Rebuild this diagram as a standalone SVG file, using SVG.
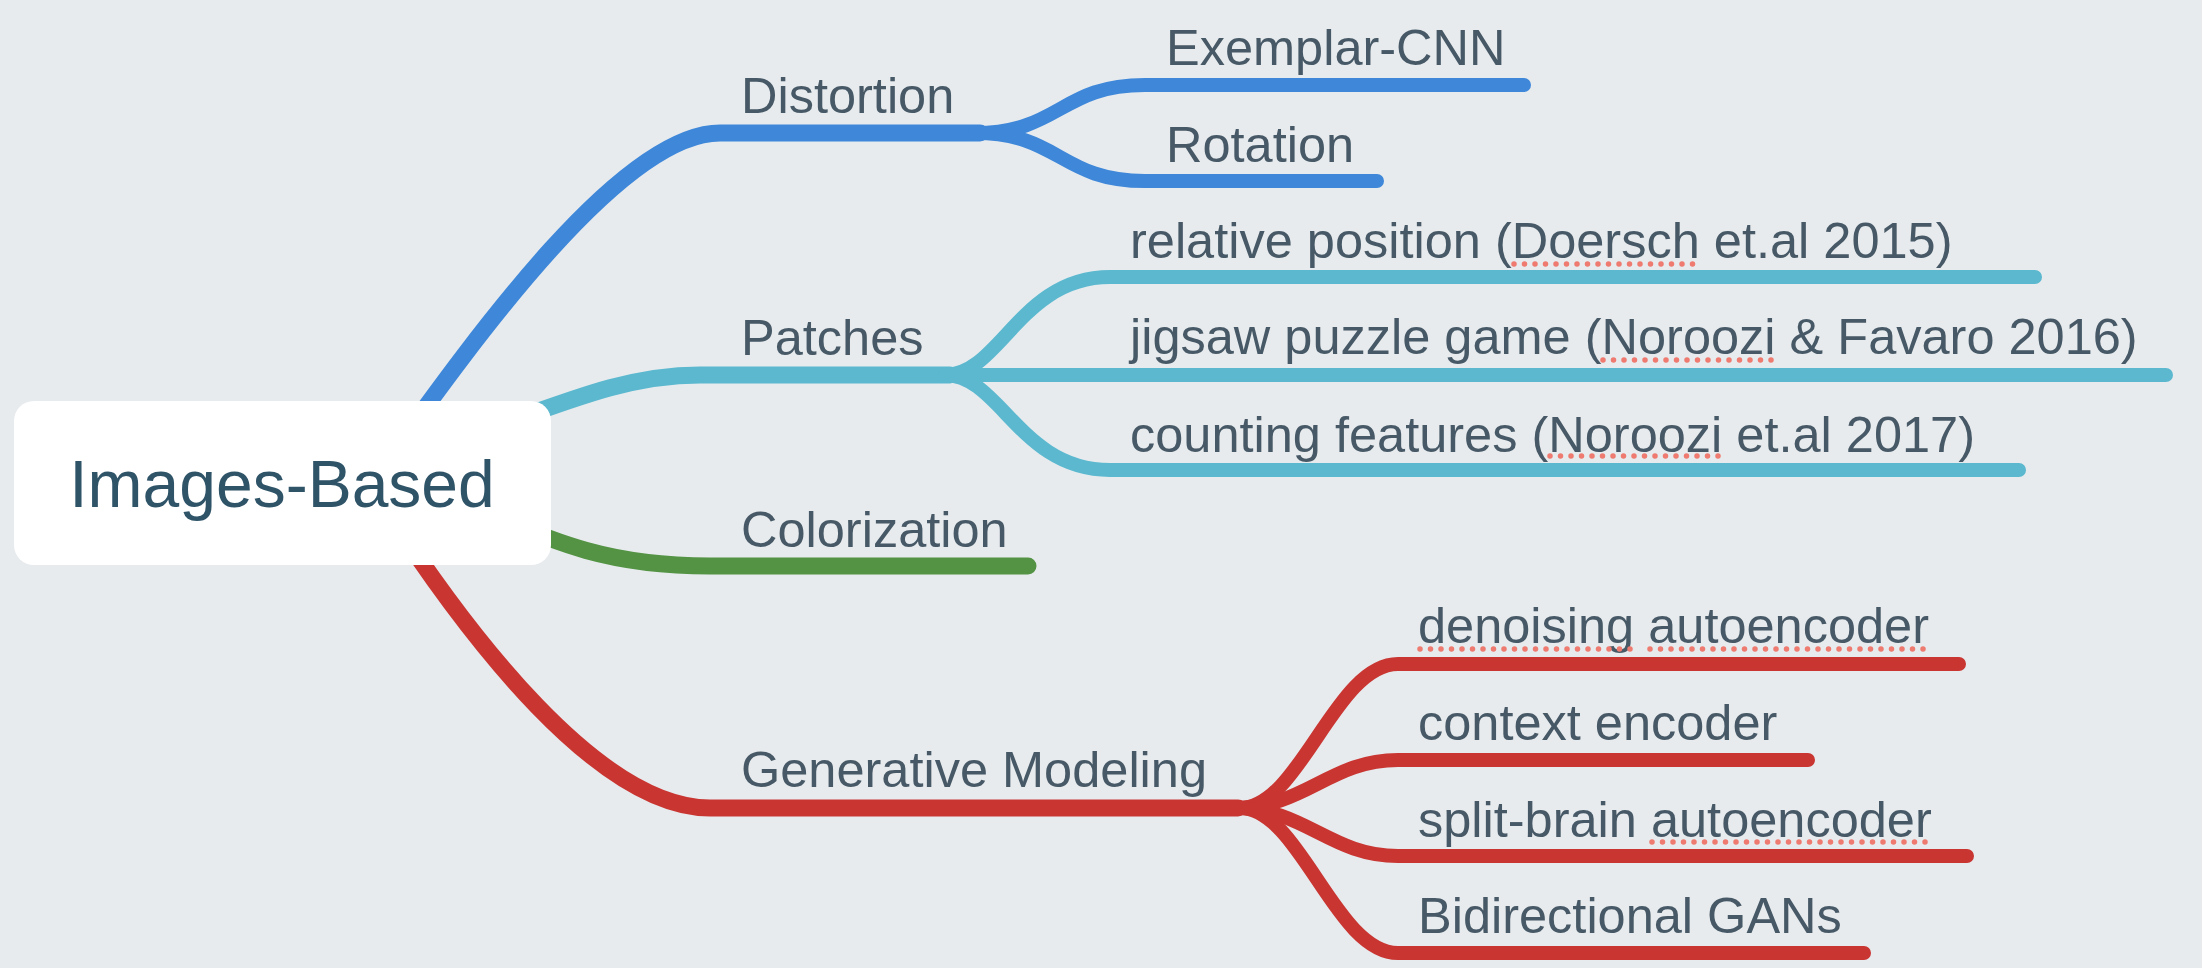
<svg xmlns="http://www.w3.org/2000/svg" width="2202" height="968" viewBox="0 0 2202 968">
<style>
.bg{fill:#e7ebee}
.l1{fill:none;stroke-width:17;stroke-linecap:round;stroke-linejoin:round}
.l2{fill:none;stroke-width:14;stroke-linecap:round;stroke-linejoin:round}
.blue{stroke:#3f87d9}
.teal{stroke:#5bb8cf}
.green{stroke:#539343}
.red{stroke:#c93632}
.t{font-family:"Helvetica Neue","Liberation Sans",Arial,sans-serif;font-size:50.5px;fill:#475966}
.root{font-family:"Helvetica Neue","Liberation Sans",Arial,sans-serif;font-size:66px;fill:#2f5468}
.sq{fill:none;stroke:#ee7a70;stroke-width:5.5;stroke-linecap:round;stroke-dasharray:0 10.5}
</style>
<rect class="bg" x="0" y="0" width="2202" height="968"/>
<g id="connectors">
  <path class="l1 blue" d="M380 470 C470 345 620 133 720 133 L980 133"/>
  <path class="l1 teal" d="M430 450 C560 405 620 375 700 375 L950 375"/>
  <path class="l1 green" d="M440 490 C560 550 620 566 710 566 L1028 566"/>
  <path class="l1 red" d="M380 500 C470 640 600 808 710 808 L1238 808"/>
  <path class="l2 blue" d="M975 133 C1060 133 1060 85 1145 85 L1524 85"/>
  <path class="l2 blue" d="M975 133 C1060 133 1060 181 1145 181 L1377 181"/>
  <path class="l2 teal" d="M945 375 C1000 375 1020 277 1110 277 L2035 277"/>
  <path class="l2 teal" d="M945 375 L2166 375"/>
  <path class="l2 teal" d="M945 375 C1000 375 1020 470 1110 470 L2019 470"/>
  <path class="l2 red" d="M1240 808 C1300 808 1335 664 1398 664 L1959 664"/>
  <path class="l2 red" d="M1235 808 C1305 808 1330 760 1398 760 L1808 760"/>
  <path class="l2 red" d="M1235 808 C1305 808 1330 856 1398 856 L1967 856"/>
  <path class="l2 red" d="M1240 808 C1300 808 1335 953 1398 953 L1864 953"/>
</g>
<g id="root">
  <rect x="14" y="401" width="537" height="164" rx="20" fill="#ffffff"/>
  <text class="root" x="282" y="507" text-anchor="middle">Images-Based</text>
</g>
<g id="distortion"><text class="t" x="741" y="113">Distortion</text></g>
<g id="exemplar-cnn"><text class="t" x="1166" y="65">Exemplar-CNN</text></g>
<g id="rotation"><text class="t" x="1166" y="162">Rotation</text></g>
<g id="patches"><text class="t" x="741" y="355">Patches</text></g>
<g id="relative-position">
  <text class="t" x="1130" y="258">relative position (Doersch et.al 2015)</text>
  <path class="sq" d="M1514 264 L1700 264"/>
</g>
<g id="jigsaw">
  <text class="t" x="1130" y="354">jigsaw puzzle game (Noroozi &amp; Favaro 2016)</text>
  <path class="sq" d="M1603 360 L1776 360"/>
</g>
<g id="counting">
  <text class="t" x="1130" y="452">counting features (Noroozi et.al 2017)</text>
  <path class="sq" d="M1550 456 L1722 456"/>
</g>
<g id="colorization"><text class="t" x="741" y="547">Colorization</text></g>
<g id="generative-modeling"><text class="t" x="741" y="787">Generative Modeling</text></g>
<g id="denoising">
  <text class="t" x="1418" y="643">denoising autoencoder</text>
  <path class="sq" d="M1420 649 L1634 649 M1650 649 L1930 649"/>
</g>
<g id="context-encoder"><text class="t" x="1418" y="740">context encoder</text></g>
<g id="split-brain">
  <text class="t" x="1418" y="837">split-brain autoencoder</text>
  <path class="sq" d="M1652 842 L1932 842"/>
</g>
<g id="bigan"><text class="t" x="1418" y="933">Bidirectional GANs</text></g>
</svg>
